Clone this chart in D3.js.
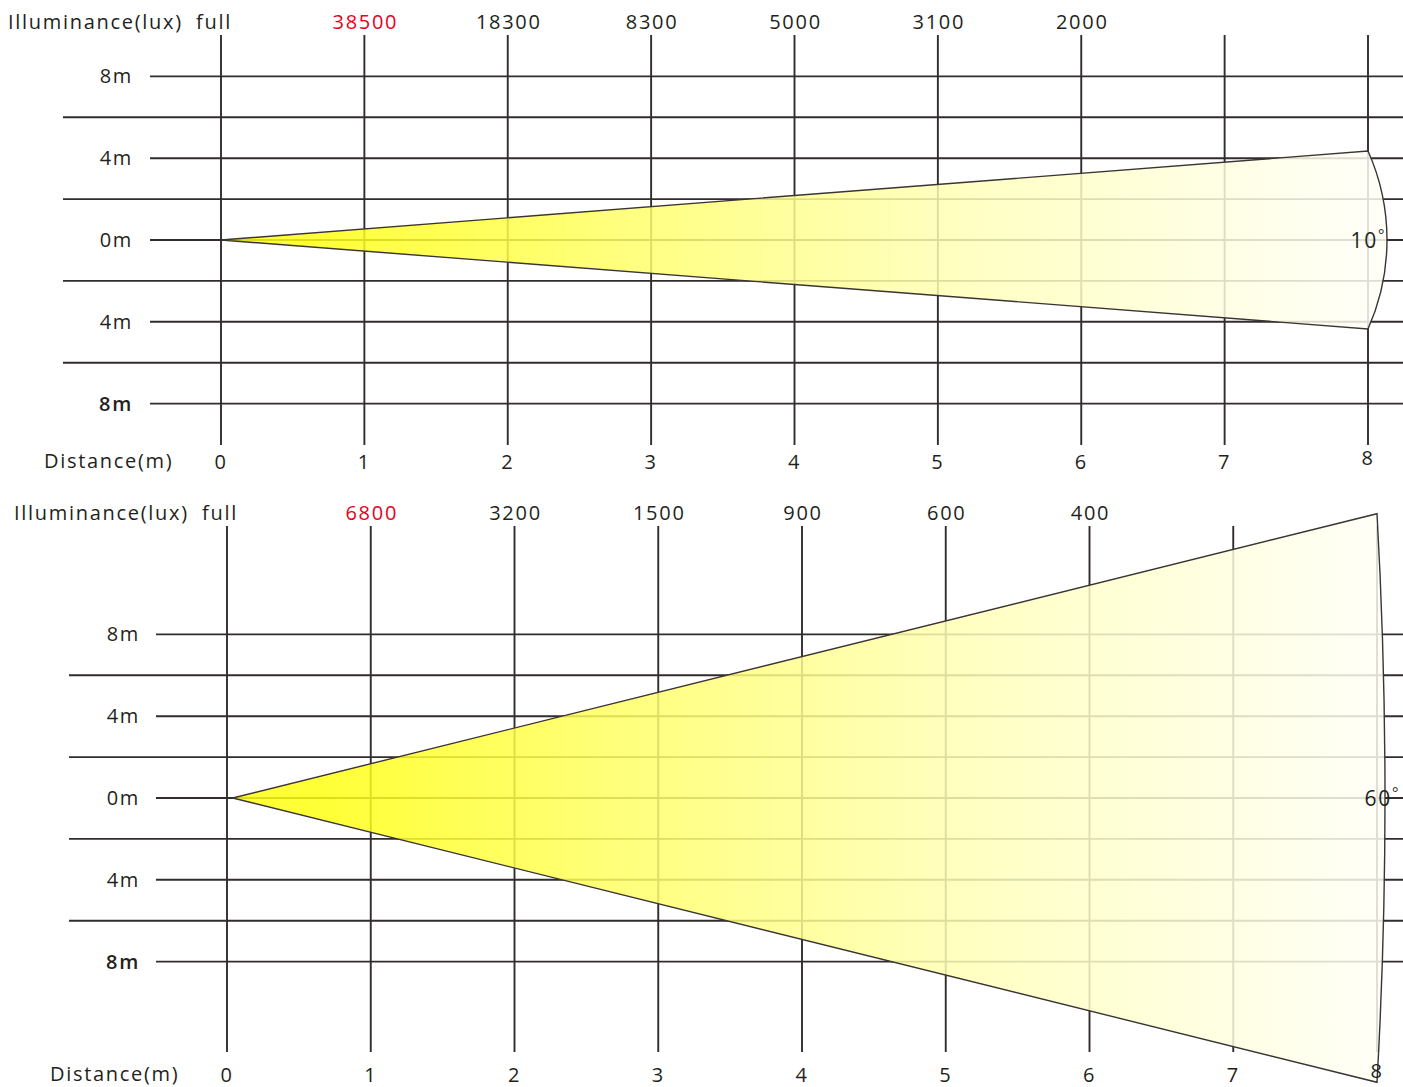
<!DOCTYPE html>
<html>
<head>
<meta charset="utf-8">
<script src="https://d3js.org/d3.v7.min.js"></script>
<style>
	body { margin: 0; background: #fff; }
	svg { display: block; }
	text { font-family: "Open Sans", "Noto Sans", sans-serif; fill: #231f20; letter-spacing: 1.7px; }
</style>
</head>
<body>
<script>
	// chart values
	var distances = [0, 1, 2, 3, 4, 5, 6, 7, 8];
	var luxTop = [38500, 18300, 8300, 5000, 3100, 2000];
	var luxBottom = [6800, 3200, 1500, 900, 600, 400];
	var beamAngles = [10, 60];
	var beamHalf = [4.35, 13.9];     // half spread (m) at 8m
	var apexAt = [0, 0.04];
	var heights = [8, 6, 4, 2, 0, -2, -4, -6, -8];
	var heightLabels = [8, 4, 0, -4, -8];

	var width = 1403, height = 1087;
	var svg = d3.select("body").append("svg")
		.attr("width", width).attr("height", height);

	var defs = svg.append("defs");

	var panels = [
		{x0: 221, x8: 1368, y0: 240, luxY: 29, vTop: 35, vBot: 445, distY: 469, labR: 133, majL: 150, minL: 63, illX: 8, distX: 44, lux: luxTop, bulge: 19, degDx: 18},
		{x0: 227, x8: 1377, y0: 798, luxY: 520, vTop: 526, vBot: 1052, distY: 1082, labR: 140, majL: 156, minL: 69, illX: 14, distX: 50, lux: luxBottom, bulge: 8, degDx: 23}
	];

	panels.forEach(function(p, k){
		var x = d3.scaleLinear().domain([0, 8]).range([p.x0, p.x8]);
		var y = d3.scaleLinear().domain([-8, 8]).range([p.y0 + 163.6, p.y0 - 163.6]);
		var g = svg.append("g");

		// horizontal grid
		g.selectAll("line.h").data(heights).enter().append("line")
			.attr("x1", function(d){ return heightLabels.indexOf(d) >= 0 ? p.majL : p.minL; })
			.attr("x2", width)
			.attr("y1", function(d){ return y(d); })
			.attr("y2", function(d){ return y(d); })
			.attr("stroke", "#332c2c").attr("stroke-width", 1.9);

		// vertical grid
		g.selectAll("line.v").data(distances).enter().append("line")
			.attr("x1", function(d){ return x(d); })
			.attr("x2", function(d){ return x(d); })
			.attr("y1", p.vTop).attr("y2", p.vBot)
			.attr("stroke", "#332c2c").attr("stroke-width", 1.9);

		// beam cone
		var grad = defs.append("linearGradient").attr("id", "beam" + k)
			.attr("gradientUnits", "userSpaceOnUse")
			.attr("x1", x(apexAt[k])).attr("x2", x(8)).attr("y1", 0).attr("y2", 0);
		grad.append("stop").attr("offset", 0.08).attr("stop-color", "#ffff10");
		grad.append("stop").attr("offset", 0.35).attr("stop-color", "#ffff66");
		grad.append("stop").attr("offset", 0.65).attr("stop-color", "#ffffb8");
		grad.append("stop").attr("offset", 1).attr("stop-color", "#fffff6");

		var ax = x(apexAt[k]), ay = y(0);
		var ex = x(8), yt = y(beamHalf[k]), yb = y(-beamHalf[k]);
		var hc = (yb - yt) / 2, s = p.bulge;
		var r = (hc * hc + s * s) / (2 * s);
		var path = "M" + ax + "," + ay + "L" + ex + "," + yt +
			"A" + r + "," + r + " 0 0 1 " + ex + "," + yb + "Z";
		g.append("path").attr("d", path)
			.attr("fill", "url(#beam" + k + ")").attr("fill-opacity", 0.84)
			.attr("stroke", "#3a3434").attr("stroke-width", 1.4);

		// angle label
		var at = g.append("text")
			.attr("x", ex + p.degDx).attr("y", ay + 8)
			.attr("text-anchor", "end").attr("font-size", 21);
		at.append("tspan").text(beamAngles[k]);
		at.append("tspan").text("°").attr("font-size", 15).attr("dy", -8);

		// height labels
		g.selectAll("text.hl").data(heightLabels).enter().append("text")
			.attr("x", p.labR).attr("y", function(d){ return y(d) + 7; })
			.attr("text-anchor", "end").attr("font-size", 20)
			.attr("font-weight", function(d, i){ return i == heightLabels.length - 1 ? 600 : 400; })
			.text(function(d){ return Math.abs(d) + "m"; });

		// illuminance row
		g.append("text").attr("x", p.illX).attr("y", p.luxY)
			.attr("font-size", 20).text("Illuminance(lux)");
		g.append("text").attr("x", x(0) + 11).attr("y", p.luxY)
			.attr("text-anchor", "end").attr("font-size", 20).text("full");
		g.selectAll("text.lux").data(p.lux).enter().append("text")
			.attr("x", function(d, i){ return x(i + 1) + 1; })
			.attr("y", p.luxY)
			.attr("text-anchor", "middle").attr("font-size", 20)
			.style("fill", function(d, i){ return i == 0 ? "#e8001c" : null; })
			.text(function(d){ return d; });

		// distance row
		g.append("text").attr("x", p.distX).attr("y", p.distY - 1)
			.attr("font-size", 20).text("Distance(m)");
		g.selectAll("text.dist").data(distances).enter().append("text")
			.attr("x", function(d){ return x(d); })
			.attr("y", function(d){ return d == 8 ? p.distY - 4 : p.distY; })
			.attr("text-anchor", "middle").attr("font-size", 20)
			.text(function(d){ return d; });
	});
</script>
</body>
</html>
